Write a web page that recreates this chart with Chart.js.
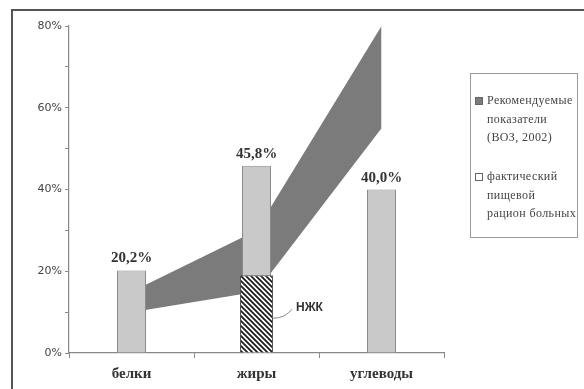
<!DOCTYPE html>
<html>
<head>
<meta charset="utf-8">
<script src="https://cdn.jsdelivr.net/npm/chart.js@4.4.1/dist/chart.umd.min.js"></script>
<style>
  html, body { margin: 0; padding: 0; background: #fff; overflow: hidden; }
  #wrap { position: relative; width: 584px; height: 389px; overflow: hidden; }
  #frame { position: absolute; left: 11px; top: 9px; width: 620px; height: 420px; border: 2px solid #555; box-sizing: border-box; }
  #chart { position: absolute; left: 0; top: 0; }
  #legend { position: absolute; left: 470px; top: 73px; width: 108px; height: 165px; border: 1px solid #999; box-sizing: border-box; overflow: hidden;
            font: 12px "Liberation Serif", serif; color: #444; letter-spacing: 0.4px; }
  .entry { position: absolute; left: 4px; line-height: 18.5px; white-space: nowrap; }
  .entry .box { position: absolute; left: 0; top: 6px; width: 6px; height: 6px; border: 1px solid #666; }
  .entry .txt { margin-left: 12px; }
</style>
</head>
<body>
<div id="wrap">
  <div id="frame"></div>
  <canvas id="chart" width="584" height="389"></canvas>
  <div id="legend"></div>
</div>
<script>
// categories and values
const categories = ['белки', 'жиры', 'углеводы'];
const actualDiet = [20.2, 45.8, 40.0];       // фактический рацион, %
const nzhkPart = [null, 19, null];            // НЖК внутри жиров, %
const recommendedHigh = [15, 30, 80];         // ВОЗ, верхняя граница
const recommendedLow = [10, 15, 55];          // ВОЗ, нижняя граница
const yTicks = [0, 20, 40, 60, 80];

const legendRecommended = ['Рекомендуемые', 'показатели', '(ВОЗ, 2002)'];
const legendActual = ['фактический', 'пищевой', 'рацион больных'];

// diagonal "\" hatch for the НЖК part
function makeHatch() {
  const s = 5;
  const p = document.createElement('canvas');
  p.width = s; p.height = s;
  const c = p.getContext('2d');
  c.fillStyle = '#fff';
  c.fillRect(0, 0, s, s);
  c.strokeStyle = '#1e1e1e';
  c.lineWidth = 1.8;
  c.beginPath();
  c.moveTo(-1, -1); c.lineTo(s + 1, s + 1);
  c.moveTo(s - 1, -1); c.lineTo(s + 1, 1);
  c.moveTo(-1, s - 1); c.lineTo(1, s + 1);
  c.stroke();
  return c.createPattern(p, 'repeat');
}

const fmt = v => v.toFixed(1).replace('.', ',') + '%';

const labelsPlugin = {
  id: 'barLabels',
  afterDatasetsDraw(chart) {
    const ctx = chart.ctx;
    const y = chart.scales.y;
    ctx.save();
    ctx.font = 'bold 15px "Liberation Serif"';
    ctx.fillStyle = '#333';
    ctx.textAlign = 'center';
    ctx.textBaseline = 'alphabetic';
    chart.getDatasetMeta(2).data.forEach((bar, i) => {
      ctx.fillText(fmt(actualDiet[i]), bar.x, bar.y - 8);
    });

    // НЖК caption with a leader
    const nz = chart.getDatasetMeta(3).data[1];
    const right = nz.x + nz.width / 2;
    const y0 = y.getPixelForValue(8.5);
    const y1 = y.getPixelForValue(11.2);
    ctx.strokeStyle = '#888';
    ctx.lineWidth = 1;
    ctx.beginPath();
    ctx.moveTo(right, y0);
    ctx.quadraticCurveTo(right + 12, y0, right + 19, y1 + 2);
    ctx.stroke();
    ctx.font = 'bold 12px "Liberation Sans"';
    ctx.textAlign = 'left';
    ctx.textBaseline = 'middle';
    ctx.fillText('НЖК', right + 23, y1);
    ctx.restore();
  }
};

new Chart(document.getElementById('chart'), {
  type: 'bar',
  data: {
    labels: categories,
    datasets: [
      {
        type: 'line', label: legendRecommended.join(' '), data: recommendedHigh,
        fill: '+1', backgroundColor: '#7b7b7b', borderWidth: 0, pointRadius: 0, tension: 0, order: 5
      },
      {
        type: 'line', label: 'low', data: recommendedLow,
        fill: false, borderWidth: 0, pointRadius: 0, tension: 0, order: 4
      },
      {
        label: legendActual.join(' '), data: actualDiet, grouped: false,
        backgroundColor: '#c9c9c9', borderColor: '#8a8a8a', borderWidth: 1,
        categoryPercentage: 1, barPercentage: 0.232, order: 2
      },
      {
        label: 'НЖК', data: nzhkPart, grouped: false,
        backgroundColor: makeHatch(), borderColor: '#555', borderWidth: 1,
        categoryPercentage: 1, barPercentage: 0.264, order: 1
      }
    ]
  },
  options: {
    responsive: false,
    animation: false,
    layout: { padding: { top: 26, right: 140, left: 0, bottom: 0 } },
    plugins: { legend: { display: false }, tooltip: { enabled: false } },
    scales: {
      x: {
        offset: true,
        grid: { offset: true, drawOnChartArea: false, tickLength: 5, color: '#888' },
        border: { color: '#888', width: 1.2 },
        ticks: { font: { family: 'Liberation Serif', size: 15, weight: 'bold' }, color: '#333', padding: 7 },
        afterFit: s => { s.height = 36; }
      },
      y: {
        min: 0, max: 80,
        grid: { drawOnChartArea: false, tickLength: 4, color: '#888' },
        border: { color: '#888', width: 1.2 },
        ticks: {
          stepSize: 10, autoSkip: false, padding: 3, color: '#444',
          font: { family: 'DejaVu Sans', size: 11 },
          callback: v => yTicks.includes(v) ? v + '%' : ''
        },
        afterFit: s => { s.width = 69; }
      }
    }
  },
  plugins: [labelsPlugin]
});

// legend box
const legend = document.getElementById('legend');
[[legendRecommended, '#7b7b7b', 17], [legendActual, '#fff', 93]].forEach(([lines, color, top]) => {
  const e = document.createElement('div');
  e.className = 'entry';
  e.style.top = top + 'px';
  e.innerHTML = '<span class="box" style="background:' + color + '"></span><div class="txt">' + lines.join('<br>') + '</div>';
  legend.appendChild(e);
});
</script>
</body>
</html>
